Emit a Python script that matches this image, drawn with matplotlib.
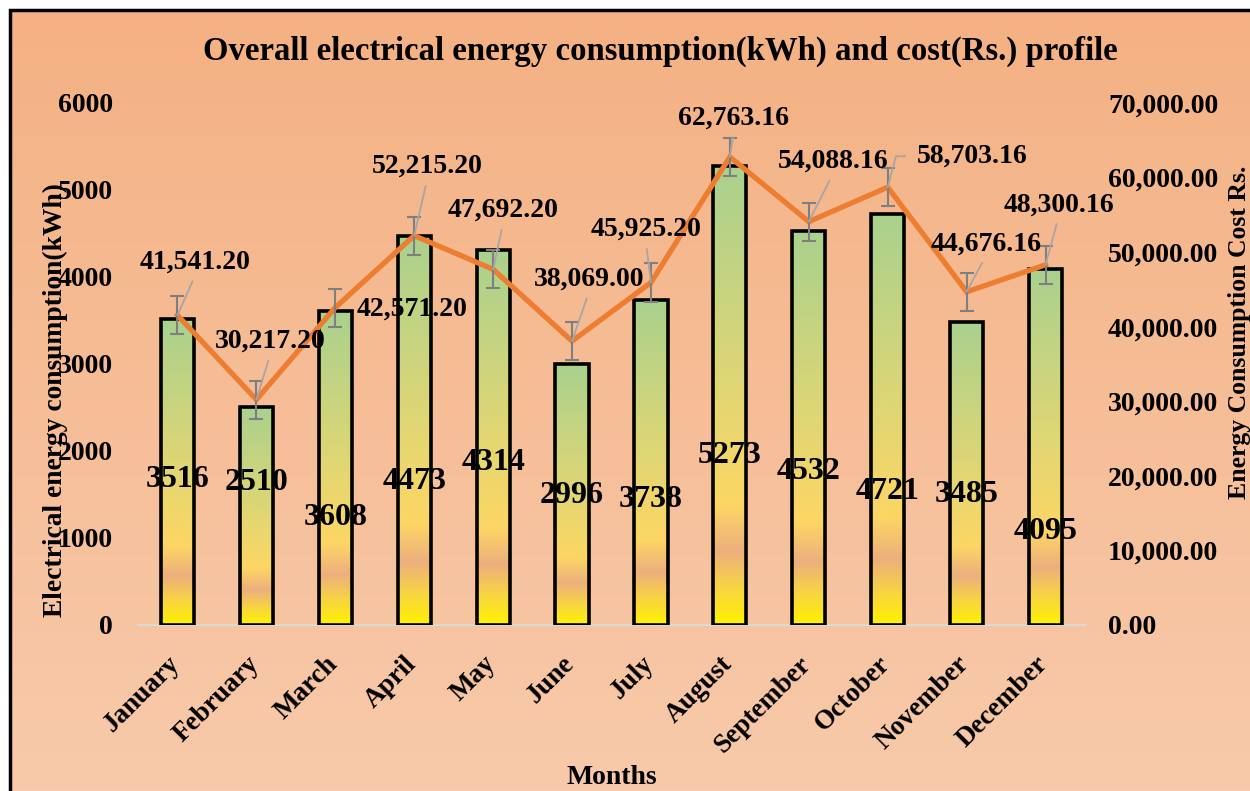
import matplotlib
matplotlib.use('Agg')
import matplotlib.pyplot as plt
from matplotlib.colors import LinearSegmentedColormap
from matplotlib.patches import Rectangle
from matplotlib.ticker import FuncFormatter
from matplotlib.transforms import ScaledTranslation
import numpy as np

months = ['January', 'February', 'March', 'April', 'May', 'June', 'July',
          'August', 'September', 'October', 'November', 'December']
kwh = [3516, 2510, 3608, 4473, 4314, 2996, 3738, 5273, 4532, 4721, 3485, 4095]
cost = [41541.20, 30217.20, 42571.20, 52215.20, 47692.20, 38069.00,
        45925.20, 62763.16, 54088.16, 58703.16, 44676.16, 48300.16]
cost_err = 2550

# where the bar value labels sit (kWh units), they were dragged around by hand
kwh_label_y = [1667, 1632, 1230, 1644, 1862, 1483, 1437, 1943, 1759, 1529, 1494, 1069]
# cost label offsets from the line point, in pixels
cost_label_off = [(18, 53), (14, 58), (77, -2), (13, 69), (10, 59), (17, 62),
                  (-5, 53), (4, 39), (24, 60), (84, 31), (19, 48), (13, 60)]

plt.rcParams['font.family'] = ['Liberation Serif', 'DejaVu Serif']
plt.rcParams['font.weight'] = 'bold'

fig = plt.figure(figsize=(12.5, 7.91), dpi=100, facecolor='white')

# chart area gradient + frame
bg = fig.add_axes([0.008, 0, 0.992, 0.9874], zorder=-5)
bg_cmap = LinearSegmentedColormap.from_list('bg', ['#F8CAAB', '#F4B183'])
bg.imshow(np.linspace(0, 1, 256).reshape(-1, 1), aspect='auto', cmap=bg_cmap,
          origin='lower', extent=[0, 1, 0, 1])
bg.axis('off')
fig.add_artist(Rectangle((0.008, -0.1), 1.2, 1.0874, transform=fig.transFigure,
                         fill=False, lw=2.5, ec='black'))

ax = fig.add_axes([0.1104, 0.2099, 0.7576, 0.6599])
ax2 = ax.twinx()
ax.set_zorder(1)
ax2.set_zorder(2)
ax.patch.set_visible(False)
ax2.patch.set_visible(False)

x = np.arange(len(months))
bar_cmap = LinearSegmentedColormap.from_list('bar', [
    (0.0, '#FFF200'), (0.08, '#F8D443'), (0.16, '#EDAF7E'), (0.26, '#FDD664'),
    (0.55, '#DDD676'), (1.0, '#A9D18E')])
bars = ax.bar(x, kwh, width=0.42, facecolor='none', edgecolor='black',
              lw=2.6, zorder=3)
grad = np.linspace(0, 1, 256).reshape(-1, 1)
for b in bars:
    im = ax.imshow(grad, extent=(b.get_x(), b.get_x() + b.get_width(), 0, b.get_height()),
                   aspect='auto', origin='lower', cmap=bar_cmap, zorder=1)
    im.set_clip_path(b)

for i, v in enumerate(kwh):
    ax.text(i, kwh_label_y[i], str(v), ha='center', va='center',
            fontsize=23, fontweight='bold', zorder=2)

ax.set_xlim(-0.5, 11.5)
ax.set_ylim(0, 6000)
ax.set_yticks(range(0, 7000, 1000))
ax.set_xticks(x)
ax.set_xticklabels(months, rotation=45, ha='right', rotation_mode='anchor')
ax.tick_params(axis='x', length=0, pad=19, labelsize=19.5)
ax.tick_params(axis='y', length=0, pad=18, labelsize=20)
shift = ScaledTranslation(-10 / 100, 0, fig.dpi_scale_trans)
for lab in ax.get_xticklabels():
    lab.set_transform(lab.get_transform() + shift)
for s in ['top', 'left', 'right']:
    ax.spines[s].set_visible(False)
ax.spines['bottom'].set_color('#D9D9D9')
ax.spines['bottom'].set_linewidth(1.5)

ax2.plot(x, cost, color='#ED7D31', lw=3.8, zorder=3, solid_joinstyle='miter')
ax2.errorbar(x, cost, yerr=cost_err, fmt='none', ecolor='#7F7F7F',
             elinewidth=1.5, capsize=5, capthick=1.5, zorder=4)
ax2.set_ylim(0, 70000)
ax2.set_yticks(range(0, 80000, 10000))
ax2.yaxis.set_major_formatter(FuncFormatter(lambda v, p: f'{v:,.2f}'))
ax2.tick_params(axis='y', length=0, pad=16.5, labelsize=20)
for s in ax2.spines.values():
    s.set_visible(False)

for i, c in enumerate(cost):
    arrow = dict(arrowstyle='-', color='#A6A6A6', lw=1.3, shrinkA=3, shrinkB=0,
                 relpos=(0.5, 0))
    if i == 2:
        arrow = None
    elif i == 9:
        arrow = dict(arrowstyle='-', color='#A6A6A6', lw=1.3, shrinkA=6, shrinkB=0,
                     relpos=(0, 0.5), connectionstyle='angle,angleA=0,angleB=75,rad=0')
    ax2.annotate(f'{c:,.2f}', xy=(i, c), xytext=cost_label_off[i],
                 textcoords='offset pixels', ha='center', va='center',
                 fontsize=20, fontweight='bold', arrowprops=arrow, zorder=5)

ax.set_xlabel('Months', fontsize=20, fontweight='bold')
ax.xaxis.set_label_coords(0.5, -0.268)
ax.set_ylabel('Electrical energy consumption(kWh)', fontsize=19.8, fontweight='bold')
ax.yaxis.set_label_coords(-0.074, 0.431)
ax2.set_ylabel('Energy Consumption Cost Rs.', fontsize=18.5, fontweight='bold')
ax2.yaxis.set_label_coords(1.151, 0.561)

fig.text(0.528, 1 - 51 / 791, 'Overall electrical energy consumption(kWh) and cost(Rs.) profile',
         ha='center', va='center', fontsize=23.6, fontweight='bold')

fig.savefig('out.png', dpi=100, facecolor=fig.get_facecolor())
